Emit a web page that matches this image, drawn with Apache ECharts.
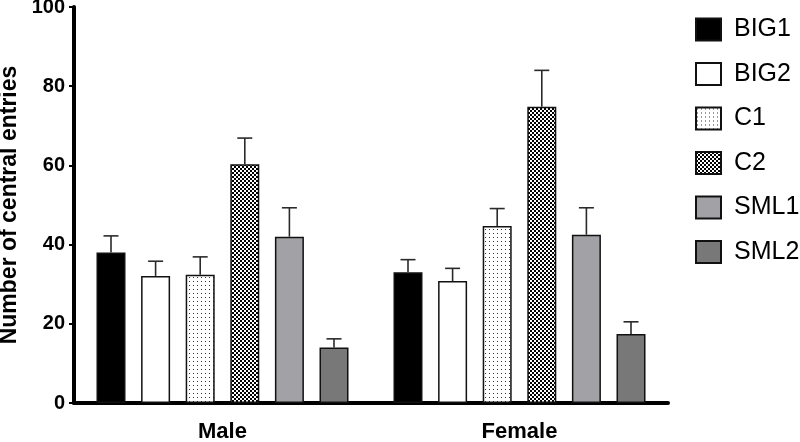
<!DOCTYPE html>
<html>
<head>
<meta charset="utf-8">
<script src="https://cdn.jsdelivr.net/npm/echarts@6/dist/echarts.min.js"></script>
<style>
html,body{margin:0;padding:0;background:#fff;}
#chart{width:800px;height:442px;}
</style>
</head>
<body>
<div id="chart"></div>
<script>
// ---- data ----
const categories = ['Male', 'Female'];
const seriesNames = ['BIG1', 'BIG2', 'C1', 'C2', 'SML1', 'SML2'];
const maleMeans = [38.0, 32.1, 32.4, 60.3, 42.0, 14.0];
const maleSEM = [4.2, 3.7, 4.5, 6.6, 7.3, 2.2];
const femaleMeans = [33.0, 30.8, 44.7, 74.8, 42.5, 17.4];
const femaleSEM = [3.2, 3.2, 4.4, 9.2, 6.8, 3.1];
const yTicks = [0, 20, 40, 60, 80, 100];

// ---- patterns ----
function makeDots() {
  const c = document.createElement('canvas');
  c.width = 4; c.height = 4;
  const g = c.getContext('2d');
  g.fillStyle = '#fff'; g.fillRect(0, 0, 4, 4);
  g.fillStyle = '#333'; g.fillRect(1, 1, 1, 1);
  return c;
}
function makeChecker() {
  const c = document.createElement('canvas');
  c.width = 4; c.height = 4;
  const g = c.getContext('2d');
  g.fillStyle = '#fff'; g.fillRect(0, 0, 4, 4);
  g.fillStyle = '#000';
  g.fillRect(0, 0, 2, 2); g.fillRect(2, 2, 2, 2);
  return c;
}
const fills = [
  '#000000',
  '#ffffff',
  { image: makeDots(), repeat: 'repeat' },
  { image: makeChecker(), repeat: 'repeat' },
  '#a2a2a6',
  '#787878'
];

const BAR_W = 29;
const BAR_GAP_PX = 15.6;
const STEP = BAR_W + BAR_GAP_PX;
const FONT = "'Liberation Sans', Arial, Helvetica, sans-serif";

const series = [];
seriesNames.forEach(function (name, i) {
  series.push({
    name: name,
    type: 'bar',
    barWidth: BAR_W,
    barGap: (BAR_GAP_PX / BAR_W * 100).toFixed(1) + '%',
    data: [maleMeans[i], femaleMeans[i]],
    itemStyle: { color: fills[i], borderColor: '#111', borderWidth: 1.5 },
    z: 2
  });
});
seriesNames.forEach(function (name, i) {
  series.push({
    type: 'custom',
    name: name + '_err',
    z: 3,
    data: [[0, maleMeans[i], maleMeans[i] + maleSEM[i]], [1, femaleMeans[i], femaleMeans[i] + femaleSEM[i]]],
    renderItem: function (params, api) {
      const base = api.coord([api.value(0), api.value(1)]);
      const top = api.coord([api.value(0), api.value(2)]);
      const x = base[0] + (i - 2.5) * STEP;
      const style = { stroke: '#2a2a2a', lineWidth: 1.6 };
      return {
        type: 'group',
        children: [
          { type: 'line', shape: { x1: x, y1: base[1], x2: x, y2: top[1] }, style: style },
          { type: 'line', shape: { x1: x - 7.5, y1: top[1], x2: x + 7.5, y2: top[1] }, style: style }
        ]
      };
    }
  });
});

const chart = echarts.init(document.getElementById('chart'), null, { renderer: 'canvas' });
chart.setOption({
  animation: false,
  backgroundColor: '#fff',
  grid: { left: 74, right: 132, top: 7, bottom: 39, containLabel: false, outerBoundsMode: 'none' },
  legend: {
    data: seriesNames,
    orient: 'vertical',
    left: 690,
    top: 12,
    itemWidth: 25,
    itemHeight: 22,
    itemGap: 19.5,
    icon: 'rect',
    textStyle: { fontFamily: FONT, fontSize: 25, lineHeight: 22, color: '#000', padding: [0, 0, 0, 8] }
  },
  xAxis: {
    type: 'category',
    data: categories,
    axisLine: { lineStyle: { color: '#000', width: 4 } },
    axisTick: { show: false },
    axisLabel: { fontFamily: FONT, fontSize: 22, fontWeight: 'bold', color: '#000', margin: 18 }
  },
  yAxis: {
    type: 'value',
    min: yTicks[0],
    max: yTicks[yTicks.length - 1],
    interval: yTicks[1] - yTicks[0],
    name: 'Number of central entries',
    nameLocation: 'middle',
    nameGap: 49,
    nameTextStyle: { fontFamily: FONT, fontSize: 23, fontWeight: 'bold', color: '#000' },
    axisLine: { show: true, lineStyle: { color: '#000', width: 4 } },
    axisTick: { show: true, length: 5, lineStyle: { color: '#000', width: 2 } },
    axisLabel: { fontFamily: FONT, fontSize: 20, fontWeight: 'bold', color: '#000', margin: 9 },
    splitLine: { show: false }
  },
  series: series
});
</script>
</body>
</html>
